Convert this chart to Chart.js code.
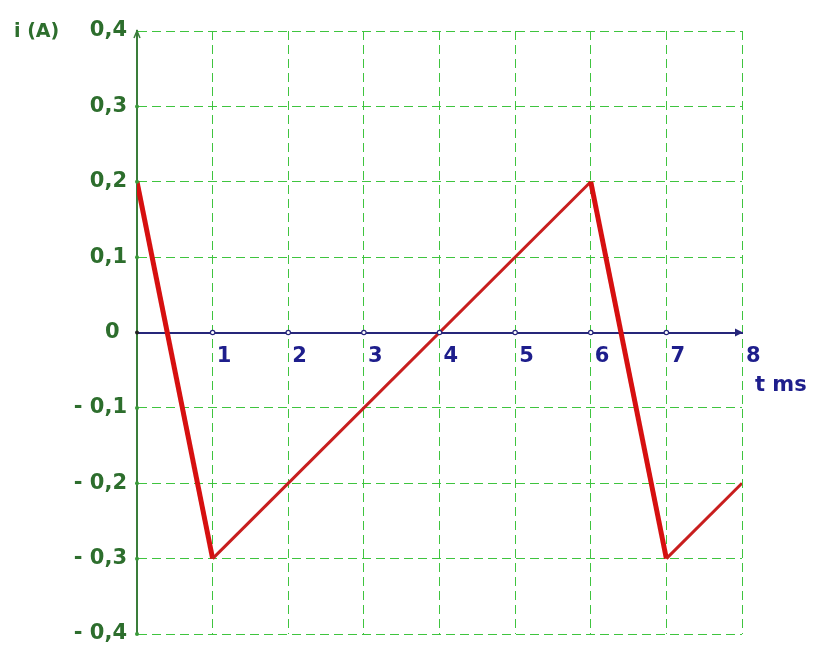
<!DOCTYPE html>
<html>
<head>
<meta charset="utf-8">
<script src="https://cdn.jsdelivr.net/npm/chart.js@4/dist/chart.umd.min.js"></script>
<style>
  html, body { margin: 0; padding: 0; background: #fff; }
  #wrap { width: 827px; height: 650px; }
</style>
</head>
<body>
<div id="wrap"><canvas id="chart" width="827" height="650"></canvas></div>
<script>
// current i (A) against time t (ms)
const timeMs = [0, 1, 6, 7, 8];
const currentA = [0.2, -0.3, 0.2, -0.3, -0.2];
const xTickValues = [0, 1, 2, 3, 4, 5, 6, 7, 8];
const yTickValues = [0.4, 0.3, 0.2, 0.1, 0, -0.1, -0.2, -0.3, -0.4];
const yAxisTitle = 'i (A)';
const xAxisTitle = 't ms';

const GRID = '#3fc43f';
const GREEN = '#2d6e2d';
const AXIS_GREEN = '#3a7d3a';
const BLUE = '#1e1e8c';
const NAVY = '#26267a';
const FONT = '"DejaVu Sans", Verdana, sans-serif';

function fmtY(v) {
    const r = Math.round(v * 10);
    if (r === 0) return '0 ';
    const s = '0,' + Math.abs(r);
    return r < 0 ? '- ' + s : s;
}

// arrows, tick dots and axis names
const axisDecor = {
    id: 'axisDecor',
    afterDraw(chart) {
        const ctx = chart.ctx;
        const xs = chart.scales.x, ys = chart.scales.y;
        const x0 = xs.getPixelForValue(0);
        const y0 = ys.getPixelForValue(0);
        const xEnd = xs.getPixelForValue(8);
        const yTop = ys.getPixelForValue(0.4);
        ctx.save();

        // y arrow
        ctx.strokeStyle = AXIS_GREEN;
        ctx.lineWidth = 1.5;
        ctx.beginPath();
        ctx.moveTo(x0 - 3, yTop + 7);
        ctx.lineTo(x0, yTop);
        ctx.lineTo(x0 + 3, yTop + 7);
        ctx.stroke();

        // x arrow
        ctx.fillStyle = NAVY;
        ctx.beginPath();
        ctx.moveTo(xEnd + 1, y0);
        ctx.lineTo(xEnd - 7, y0 - 4);
        ctx.lineTo(xEnd - 7, y0 + 4);
        ctx.closePath();
        ctx.fill();

        // dots on axes
        ctx.lineWidth = 1.2;
        xTickValues.forEach(v => {
            if (v === 0 || v === 8) return;
            ctx.beginPath();
            ctx.arc(xs.getPixelForValue(v), y0, 2.2, 0, Math.PI * 2);
            ctx.fillStyle = '#fff';
            ctx.fill();
            ctx.strokeStyle = NAVY;
            ctx.stroke();
        });
        yTickValues.forEach(v => {
            if (v === 0.4) return;
            ctx.beginPath();
            ctx.arc(x0, ys.getPixelForValue(v), 2, 0, Math.PI * 2);
            ctx.fillStyle = v === 0 ? '#222' : '#3a9a3a';
            ctx.fill();
        });

        ctx.textBaseline = 'middle';
        ctx.textAlign = 'left';
        ctx.font = 'bold 19px ' + FONT;
        ctx.fillStyle = GREEN;
        ctx.fillText(yAxisTitle, 14, yTop + 1);
        ctx.font = 'bold 21px ' + FONT;
        ctx.fillStyle = BLUE;
        ctx.fillText(xAxisTitle, xEnd + 13, y0 + 53);
        ctx.restore();
    }
};

new Chart(document.getElementById('chart'), {
    type: 'line',
    data: {
        datasets: [{
            data: timeMs.map((t, i) => ({ x: t, y: currentA[i] })),
            borderColor: '#cf1414',
            borderWidth: 3,
            pointRadius: 0,
            tension: 0,
            segment: {
                borderWidth: c => c.p1.parsed.y < c.p0.parsed.y ? 5 : 3,
                borderColor: c => c.p1.parsed.y < c.p0.parsed.y ? '#d61010' : '#c81e1e'
            }
        }]
    },
    options: {
        responsive: false,
        animation: false,
        layout: { padding: { left: 0, top: 31, right: 85, bottom: 16 } },
        plugins: { legend: { display: false }, tooltip: { enabled: false } },
        scales: {
            x: {
                type: 'linear',
                position: { y: 0 },
                min: 0,
                max: 8,
                afterBuildTicks: s => { s.ticks = xTickValues.map(v => ({ value: v })); },
                afterFit: s => { s.paddingLeft = 0; s.paddingRight = 0; },
                grid: {
                    drawTicks: false,
                    color: c => c.tick && c.tick.value === 0 ? 'rgba(0,0,0,0)' : GRID,
                    lineWidth: 1
                },
                border: { display: true, color: NAVY, width: 2, dash: [9, 5] },
                ticks: {
                    align: 'start',
                    labelOffset: 4,
                    padding: 11,
                    color: BLUE,
                    font: { family: FONT, size: 21, weight: 'bold' },
                    callback: v => v === 0 ? '' : String(v)
                }
            },
            y: {
                type: 'linear',
                position: 'left',
                min: -0.4,
                max: 0.4,
                afterBuildTicks: s => { s.ticks = yTickValues.map(v => ({ value: v })); },
                afterFit: s => { s.width = 137; s.paddingTop = 0; s.paddingBottom = 0; },
                grid: {
                    drawTicks: false,
                    color: c => c.tick && Math.round(c.tick.value * 10) === 0 ? 'rgba(0,0,0,0)' : GRID,
                    lineWidth: 1
                },
                border: { display: true, color: AXIS_GREEN, width: 2, dash: [9, 5] },
                ticks: {
                    padding: 10,
                    color: GREEN,
                    font: { family: FONT, size: 21, weight: 'bold' },
                    callback: v => fmtY(v)
                }
            }
        }
    },
    plugins: [axisDecor]
});
</script>
</body>
</html>
